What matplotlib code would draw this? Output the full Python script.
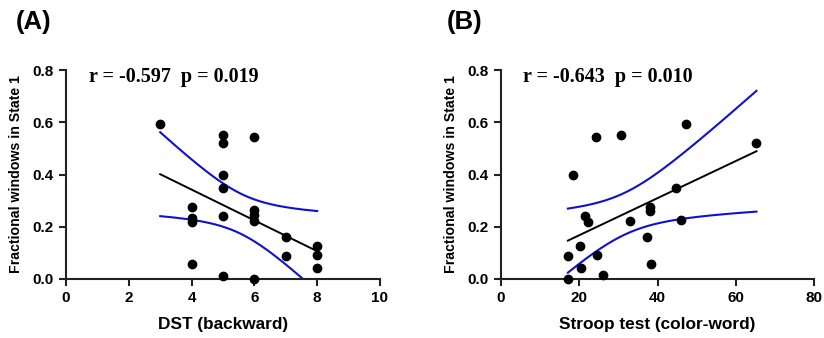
import numpy as np
import matplotlib
matplotlib.use("Agg")
import matplotlib.pyplot as plt

plt.rcParams['font.family'] = ['Liberation Sans', 'DejaVu Sans']

# Panel A data: DST (backward) vs fractional windows
dst_x = [3, 5, 5, 6, 5, 5, 4, 4, 4, 5, 6, 6, 6, 7, 7, 8, 8, 8, 4, 5, 6]
dst_y = [0.595, 0.552, 0.522, 0.544, 0.400, 0.347, 0.276, 0.233, 0.218, 0.243,
         0.265, 0.246, 0.223, 0.159, 0.087, 0.127, 0.090, 0.041, 0.059, 0.013, 0.0]

# Panel B data: Stroop test (color-word) vs fractional windows
stroop_x = [17.1, 17.1, 18.3, 20.2, 20.5, 21.5, 22.3, 24.3, 24.5, 26.0,
            30.7, 33.0, 37.3, 38.2, 38.2, 38.3, 44.8, 46.0, 47.3, 65.3]
stroop_y = [0.0, 0.087, 0.400, 0.127, 0.042, 0.243, 0.218, 0.544, 0.092, 0.014,
            0.553, 0.223, 0.159, 0.276, 0.262, 0.059, 0.347, 0.227, 0.595, 0.522]

stat_a = "r = -0.597  p = 0.019"
stat_b = "r = -0.643  p = 0.010"
t_crit = {19: 2.093, 18: 2.101}

ylabel = "Fractional windows in State 1"
yticks = [0.0, 0.2, 0.4, 0.6, 0.8]
xticks_a = [0, 2, 4, 6, 8, 10]
xticks_b = [0, 20, 40, 60, 80]


def fit_ci(x, y):
    x = np.asarray(x, float); y = np.asarray(y, float)
    n = len(x)
    b, a = np.polyfit(x, y, 1)
    resid = y - (a + b * x)
    s = np.sqrt(np.sum(resid ** 2) / (n - 2))
    xm = x.mean(); sxx = np.sum((x - xm) ** 2)
    xs = np.linspace(x.min(), x.max(), 200)
    yh = a + b * xs
    se = s * np.sqrt(1.0 / n + (xs - xm) ** 2 / sxx)
    t = t_crit[n - 2]
    return xs, yh, yh - t * se, yh + t * se


fig = plt.figure(figsize=(8.24, 3.38), dpi=100)
axA = fig.add_axes([66/824, 59/338, 314/824, 209/338])
axB = fig.add_axes([501/824, 59/338, 313/824, 209/338])

for ax, x, y, xt, xl, stat, tx in [
        (axA, dst_x, dst_y, xticks_a, "DST (backward)", stat_a, 0.73),
        (axB, stroop_x, stroop_y, xticks_b, "Stroop test (color-word)", stat_b, 5.6)]:
    xs, yh, lo, hi = fit_ci(x, y)
    ax.plot(xs, hi, color='#1010d0', lw=1.5)
    ax.plot(xs, lo, color='#1010d0', lw=1.5)
    ax.plot(xs, yh, color='black', lw=1.4)
    ax.scatter(x, y, s=36, color='black', zorder=5, clip_on=False)
    ax.set_xlim(xt[0], xt[-1])
    ax.set_ylim(0, 0.8)
    ax.set_xticks(xt)
    ax.set_yticks(yticks)
    ax.set_xticklabels([str(v) for v in xt], fontweight='bold', fontsize=11)
    ax.set_yticklabels(["%.1f" % v for v in yticks], fontweight='bold', fontsize=11)
    for sp in ['top', 'right']:
        ax.spines[sp].set_visible(False)
    for sp in ['left', 'bottom']:
        ax.spines[sp].set_linewidth(1.5)
        ax.spines[sp].set_color('#222222')
    ax.tick_params(width=1.5, length=5, color='#222222', pad=4)
    ax.set_xlabel(xl, fontweight='bold', fontsize=12.4, labelpad=8)
    ax.set_ylabel(ylabel, fontweight='bold', fontsize=10.2, labelpad=7)
    ax.text(tx, 0.772, stat, fontfamily=['Liberation Serif'], fontweight='bold',
            fontsize=14.5, va='center', ha='left')

fig.text(16/824, 1 - 22/338, "(A)", fontweight='bold', fontsize=18.5, va='center', ha='left')
fig.text(447/824, 1 - 22/338, "(B)", fontweight='bold', fontsize=18.5, va='center', ha='left')

fig.savefig("out.png", dpi=100)
